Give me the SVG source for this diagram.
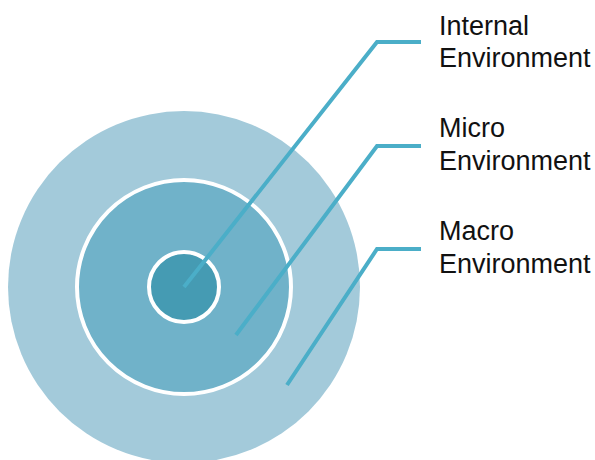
<svg xmlns="http://www.w3.org/2000/svg" width="595" height="460" viewBox="0 0 595 460">
<style>
.lbl{font-family:"Liberation Sans",Arial,sans-serif;font-size:27px;fill:#111}
.con{fill:none;stroke:#4BAEC8;stroke-width:4;stroke-linejoin:miter}
</style>
<rect width="595" height="460" fill="#fff"/>
<g id="macro"><circle cx="184" cy="287" r="176" fill="#A3CADA"/></g>
<g id="micro"><circle cx="184" cy="287" r="107" fill="#70B2C9" stroke="#fff" stroke-width="4"/></g>
<g id="internal"><circle cx="184" cy="287" r="35" fill="#459BB3" stroke="#fff" stroke-width="4"/></g>
<g id="connectors">
<polyline class="con" points="184,287 377,42 421,42"/>
<polyline class="con" points="236,335 377,146 421,146"/>
<polyline class="con" points="287,385 377,249 421,249"/>
</g>
<g id="label-internal"><text class="lbl" x="439" y="35">Internal</text><text class="lbl" x="439" y="67">Environment</text></g>
<g id="label-micro"><text class="lbl" x="439" y="137">Micro</text><text class="lbl" x="439" y="170">Environment</text></g>
<g id="label-macro"><text class="lbl" x="439" y="240">Macro</text><text class="lbl" x="439" y="273">Environment</text></g>
</svg>
